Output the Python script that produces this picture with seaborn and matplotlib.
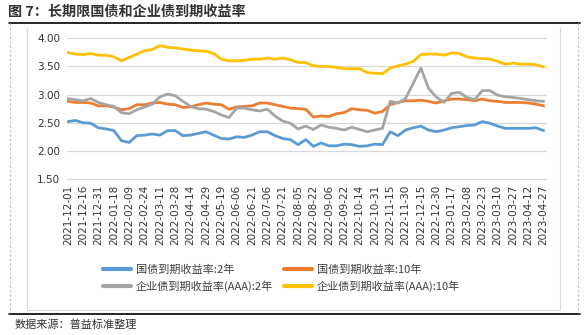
import numpy as np
import pandas as pd
import matplotlib
matplotlib.use("Agg")
import matplotlib.pyplot as plt
import seaborn as sns
from matplotlib.lines import Line2D

# ---------------- data ----------------
dates = ["2021-12-01", "2021-12-16", "2021-12-31", "2022-01-18", "2022-02-09", "2022-02-24",
         "2022-03-11", "2022-03-28", "2022-04-14", "2022-04-29", "2022-05-19", "2022-06-06",
         "2022-06-21", "2022-07-06", "2022-07-21", "2022-08-05", "2022-08-22", "2022-09-06",
         "2022-09-22", "2022-10-14", "2022-10-31", "2022-11-15", "2022-11-30", "2022-12-15",
         "2022-12-30", "2023-01-17", "2023-02-08", "2023-02-23", "2023-03-10", "2023-03-27",
         "2023-04-12", "2023-04-27"]

# values sampled at each label and half-way between labels (63 points)
gov_2y = [2.52, 2.54, 2.50, 2.49, 2.41, 2.39, 2.36, 2.18, 2.15, 2.27, 2.28, 2.30, 2.28, 2.36, 2.36, 2.27,
          2.28, 2.31, 2.34, 2.28, 2.22, 2.21, 2.25, 2.24, 2.28, 2.34, 2.34, 2.27, 2.22, 2.20, 2.11,
          2.20, 2.08, 2.14, 2.09, 2.09, 2.12, 2.11, 2.08, 2.09, 2.12, 2.11, 2.34, 2.27, 2.37, 2.41, 2.44,
          2.37, 2.34, 2.37, 2.41, 2.43, 2.45, 2.46, 2.52, 2.49, 2.44, 2.40, 2.40, 2.40, 2.40, 2.41, 2.36]
gov_10y = [2.88, 2.86, 2.86, 2.85, 2.80, 2.80, 2.78, 2.73, 2.75, 2.82, 2.82, 2.85, 2.86, 2.83, 2.82, 2.77,
           2.78, 2.82, 2.85, 2.83, 2.82, 2.74, 2.78, 2.79, 2.80, 2.85, 2.85, 2.82, 2.79, 2.76, 2.75,
           2.74, 2.60, 2.62, 2.61, 2.66, 2.68, 2.75, 2.73, 2.72, 2.67, 2.70, 2.82, 2.86, 2.89, 2.89, 2.90,
           2.88, 2.85, 2.89, 2.92, 2.92, 2.91, 2.89, 2.92, 2.89, 2.88, 2.86, 2.86, 2.86, 2.85, 2.83, 2.80]
corp_2y = [2.93, 2.91, 2.89, 2.93, 2.86, 2.82, 2.79, 2.68, 2.66, 2.73, 2.78, 2.83, 2.96, 3.01, 2.98, 2.88,
           2.79, 2.75, 2.74, 2.70, 2.64, 2.59, 2.76, 2.76, 2.73, 2.71, 2.74, 2.62, 2.53, 2.49, 2.39,
           2.44, 2.38, 2.46, 2.42, 2.40, 2.37, 2.42, 2.38, 2.34, 2.37, 2.40, 2.88, 2.85, 2.93, 3.20, 3.47,
           3.11, 2.96, 2.86, 3.02, 3.04, 2.95, 2.91, 3.07, 3.07, 2.99, 2.96, 2.95, 2.93, 2.91, 2.89, 2.88]
corp_10y = [3.745, 3.72, 3.71, 3.73, 3.70, 3.70, 3.67, 3.60, 3.66, 3.72, 3.78, 3.80, 3.87, 3.84, 3.83, 3.81,
            3.79, 3.78, 3.77, 3.73, 3.63, 3.60, 3.60, 3.61, 3.63, 3.63, 3.65, 3.63, 3.65, 3.62, 3.57,
            3.57, 3.51, 3.50, 3.50, 3.48, 3.46, 3.46, 3.46, 3.39, 3.38, 3.37, 3.47, 3.51, 3.54, 3.59, 3.71,
            3.72, 3.72, 3.70, 3.74, 3.73, 3.67, 3.65, 3.64, 3.63, 3.59, 3.54, 3.56, 3.54, 3.54, 3.53, 3.49]

series_names = ["国债到期收益率:2年", "国债到期收益率:10年",
                "企业债到期收益率(AAA):2年", "企业债到期收益率(AAA):10年"]
series_colors = ["#5B9BD5", "#ED7D31", "#A5A5A5", "#FFC000"]
y_ticks = [1.50, 2.00, 2.50, 3.00, 3.50, 4.00]
title = "图 7：长期限国债和企业债到期收益率"
source = "数据来源：普益标准整理"

# ---------------- style ----------------
sns.set_theme(style="white")
plt.rcParams["font.family"] = ["Noto Sans CJK SC", "DejaVu Sans"]

W, H = 588, 335
fig = plt.figure(figsize=(W / 100, H / 100), dpi=100)
fig.patch.set_facecolor("white")


def fx(px):
    return px / W


def fy(py):
    return 1 - py / H


ax_l, ax_r, ax_t, ax_b = 67, 546, 38.3, 179.0
ax = fig.add_axes([fx(ax_l), fy(ax_b), fx(ax_r - ax_l), (ax_b - ax_t) / H])

step = 0.5
pos = np.arange(len(gov_2y)) * step
frames = []
for name, vals in zip(series_names, [gov_2y, gov_10y, corp_2y, corp_10y]):
    frames.append(pd.DataFrame({"pos": pos, "value": vals, "series": name}))
df = pd.concat(frames, ignore_index=True)

sns.lineplot(data=df, x="pos", y="value", hue="series", hue_order=series_names,
             palette=series_colors, linewidth=2.0, ax=ax, legend=False)

ax.set_xlim(-0.05, len(dates) - 1 + 0.15)
ax.set_ylim(y_ticks[0], y_ticks[-1])
ax.set_yticks(y_ticks)
ax.set_yticklabels([f"{v:.2f}" for v in y_ticks], fontsize=7.5, color="#333333",
                   family="DejaVu Sans")
ax.set_xticks(np.arange(len(dates)))
ax.set_xticklabels(dates, rotation=90, fontsize=7.5, color="#333333", family="DejaVu Sans")
ax.tick_params(axis="both", length=0)
ax.tick_params(axis="y", pad=5)
ax.tick_params(axis="x", pad=4)
ax.set_xlabel("")
ax.set_ylabel("")
ax.grid(False)
ax.yaxis.grid(True, color="#D9D9D9", linewidth=0.9)
ax.set_axisbelow(True)
for s in ax.spines.values():
    s.set_visible(False)
for gl in ax.get_ygridlines():
    gl.set_clip_on(False)

# legend
handles = [Line2D([], [], color=c, linewidth=3) for c in series_colors]
order = [0, 2, 1, 3]
fig.legend([handles[i] for i in order], [series_names[i] for i in order],
           loc="upper left", bbox_to_anchor=(fx(103), fy(264)), ncol=2,
           frameon=False, fontsize=8, handlelength=2.5, handletextpad=0.45,
           columnspacing=1.0, labelspacing=0.55, borderpad=0, borderaxespad=0,
           labelcolor="#404040")

# title and frame
fig.text(fx(8), fy(12), title, fontsize=10.2, fontweight="bold", color="#333333",
         va="center", ha="left")
fig.add_artist(Line2D([fx(9), fx(580)], [fy(22.5), fy(22.5)], color="black", linewidth=1.2))
fig.add_artist(Line2D([fx(9), fx(580)], [fy(314), fy(314)], color="black", linewidth=1.2))
fig.add_artist(Line2D([fx(9.5), fx(9.5)], [fy(23), fy(313)], color="#BFBFBF",
                      linewidth=0.8, linestyle=(0, (2, 2))))
fig.add_artist(Line2D([fx(577.5), fx(577.5)], [fy(23), fy(313)], color="#BFBFBF",
                      linewidth=0.8, linestyle=(0, (2, 2))))
fig.add_artist(Line2D([fx(27), fx(27), fx(560), fx(560)], [fy(28), fy(310), fy(310), fy(28)],
                      color="#D9D9D9", linewidth=0.8))
fig.text(fx(15), fy(325), source, fontsize=8, color="#333333", va="center", ha="left")

fig.savefig("out.png", dpi=100)
